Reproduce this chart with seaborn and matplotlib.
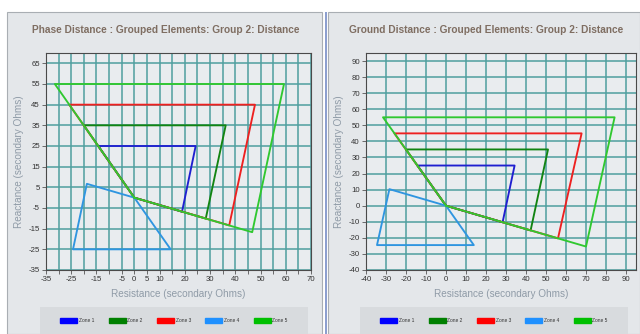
import numpy as np
import pandas as pd
import seaborn as sns
import matplotlib
matplotlib.use("Agg")
import matplotlib.pyplot as plt
from matplotlib.patches import Rectangle, Patch

# ---------------- data ----------------
zones = ["Zone 1", "Zone 2", "Zone 3", "Zone 4", "Zone 5"]
line_colors = ["#1f1fd0", "#128412", "#ee2020", "#2f95e0", "#30c830"]
patch_colors = ["#0000ff", "#008000", "#ff0000", "#1e90ff", "#00c000"]

phase_title = "Phase Distance : Grouped Elements: Group 2: Distance"
ground_title = "Ground Distance : Grouped Elements: Group 2: Distance"
x_label = "Resistance (secondary Ohms)"
y_label = "Reactance (secondary Ohms)"

# Phase distance zones (R, X vertices)
phase_r = {
    "Zone 1": [0, -14.3, 24.3, 18.9],
    "Zone 2": [0, -20.0, 36.2, 28.3],
    "Zone 3": [0, -25.8, 47.8, 37.6],
    "Zone 4": [0, -18.8, -24.3, 14.4],
    "Zone 5": [0, -31.5, 59.3, 46.7],
}
phase_x = {
    "Zone 1": [0, 25, 25, -6.8],
    "Zone 2": [0, 35, 35, -10.1],
    "Zone 3": [0, 45, 45, -13.4],
    "Zone 4": [0, 6.7, -25, -25],
    "Zone 5": [0, 55, 55, -16.7],
}
# Ground distance zones
ground_r = {
    "Zone 1": [0, -14.3, 34.3, 28.3],
    "Zone 2": [0, -20.0, 51.0, 42.3],
    "Zone 3": [0, -25.8, 67.8, 56.0],
    "Zone 4": [0, -28.3, -34.5, 13.9],
    "Zone 5": [0, -31.5, 84.3, 70.0],
}
ground_x = {
    "Zone 1": [0, 25, 25, -10.3],
    "Zone 2": [0, 35, 35, -15.4],
    "Zone 3": [0, 45, 45, -20.3],
    "Zone 4": [0, 10.3, -24.5, -24.5],
    "Zone 5": [0, 55, 55, -25.4],
}

phase_xlim = (-35, 70)
phase_ylim = (-35, 70)
phase_xgrid = list(range(-35, 71, 5))
phase_xtick_labels = ["-35", "-25", "-15", "-5", "0", "5", "10", "20", "30", "40", "50", "60", "70"]
phase_yticks = list(range(-35, 66, 10))

ground_xlim = (-40, 95)
ground_ylim = (-40, 95)
ground_xticks = list(range(-40, 91, 10))
ground_yticks = list(range(-40, 91, 10))


def to_frame(rd, xd):
    rows = []
    for z in zones:
        rs = rd[z] + [rd[z][0]]
        xs = xd[z] + [xd[z][0]]
        for i, (r, x) in enumerate(zip(rs, xs)):
            rows.append({"zone": z, "order": i, "R": r, "X": x})
    return pd.DataFrame(rows)


sns.set_theme(style="white")
plt.rcParams["font.family"] = ["Liberation Sans", "DejaVu Sans"]

W, H = 640, 334
fig = plt.figure(figsize=(6.4, 3.34), dpi=100)
fig.patch.set_facecolor("white")

panel_bg = "#e4e7ea"
plot_bg = "#e9ecef"
strip_bg = "#d8dbde"
grid_c = "#4f9e9f"


def fr(x0, y0, x1, y1):
    # pixel box (top-left origin) to figure fraction
    return (x0 / W, 1 - y1 / H, (x1 - x0) / W, (y1 - y0) / H)


# panels
for (x0, x1) in [(7, 322), (328, 640)]:
    l, b, w, h = fr(x0, 12, x1, 334)
    fig.patches.append(Rectangle((l, b), w, h, transform=fig.transFigure,
                                 facecolor=panel_bg, edgecolor="#a9aeb3", lw=0.8, zorder=-2))
l, b, w, h = fr(325, 12, 327, 334)
fig.patches.append(Rectangle((l, b), w, h, transform=fig.transFigure,
                             facecolor="#8d9fcf", edgecolor="none", zorder=-1))
# legend strips
for (x0, x1) in [(40, 308), (360, 628)]:
    l, b, w, h = fr(x0, 307, x1, 334)
    fig.patches.append(Rectangle((l, b), w, h, transform=fig.transFigure,
                                 facecolor=strip_bg, edgecolor="none", zorder=-1))

ax1 = fig.add_axes(fr(46, 53, 311, 270))
ax2 = fig.add_axes(fr(366, 53, 636, 270))

palette = dict(zip(zones, line_colors))

for ax, rd, xd in [(ax1, phase_r, phase_x), (ax2, ground_r, ground_x)]:
    ax.set_zorder(2)
    df = to_frame(rd, xd)
    ax.set_facecolor(plot_bg)
    sns.lineplot(data=df, x="R", y="X", hue="zone", hue_order=zones, palette=palette,
                 sort=False, estimator=None, units="zone", lw=1.35, legend=False, ax=ax,
                 zorder=3)
    for s in ax.spines.values():
        s.set_color("#4a4a4a")
        s.set_linewidth(0.8)
    ax.tick_params(axis="both", which="both", direction="out", length=3, width=0.6,
                   color="#555555", labelsize=5.6, labelcolor="#333333", pad=1.5,
                   left=True, bottom=True)
    ax.set_xlabel(x_label, fontsize=7.2, color="#8f9ba7", labelpad=4)
    ax.set_ylabel(y_label, fontsize=7.2, color="#8f9ba7", labelpad=3)

# left axis ticks
ax1.set_xlim(*phase_xlim)
ax1.set_ylim(*phase_ylim)
ax1.set_xticks(phase_xgrid)
ax1.set_xticklabels([str(v) if str(v) in phase_xtick_labels else "" for v in phase_xgrid])
ax1.set_yticks(phase_yticks)
ax1.set_yticklabels([str(v) for v in phase_yticks])

ax2.set_xlim(*ground_xlim)
ax2.set_ylim(*ground_ylim)
ax2.set_xticks(ground_xticks)
ax2.set_xticklabels([str(v) for v in ground_xticks])
ax2.set_yticks(ground_yticks)
ax2.set_yticklabels([str(v) for v in ground_yticks])

for ax in (ax1, ax2):
    ax.grid(True, color=grid_c, lw=1.1, zorder=1)
    ax.set_axisbelow(True)

# titles
fig.text(166 / W, 1 - 30 / H, phase_title, ha="center", va="center",
         fontsize=7.3, fontweight="bold", color="#7f6e62")
fig.text(486 / W, 1 - 30 / H, ground_title, ha="center", va="center",
         fontsize=7.3, fontweight="bold", color="#7f6e62")

# legends
handles = [Patch(facecolor=c, edgecolor=c) for c in patch_colors]
for cx in [(40 + 308) / 2, (360 + 628) / 2]:
    fig.legend(handles, zones, loc="center", bbox_to_anchor=(cx / W, 1 - 320.5 / H),
               ncol=5, frameon=False, fontsize=3.5, handlelength=3.5, handleheight=1.4,
               handletextpad=0.3, columnspacing=3.0, labelcolor="#333333")

fig.savefig("out.png", dpi=100, facecolor="white")
